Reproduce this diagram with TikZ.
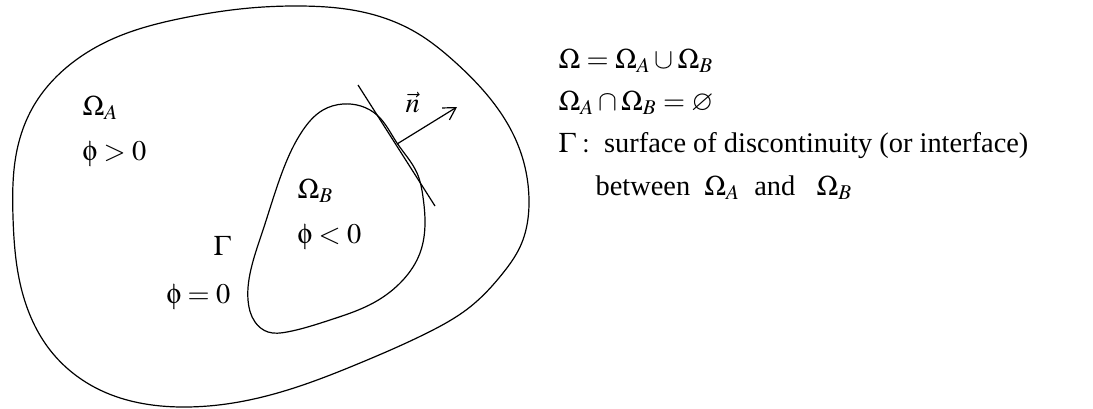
\documentclass[tikz,border=0pt]{standalone}
\usepackage{mathptmx}
\usepackage{amssymb}
\usepackage[Symbol]{upgreek}
\usepackage[no-math]{fontspec}
\setmainfont{Liberation Serif}
\usepackage{tikz}
\usetikzlibrary{arrows.meta, hobby}

\begin{document}
\begin{tikzpicture}[x=0.5pt, y=-0.5pt, line width=0.6pt,
  lbl/.style={anchor=base west, inner sep=0pt, font=\fontsize{14.2}{17}\selectfont}]
  \useasboundingbox (0,0) rectangle (1093,408);

  % Outer domain Omega
  \draw plot[closed hobby] coordinates {
    (13,217) (17,150) (33,107) (67,67) (117,37) (183,18) (250,8) (300,6)
    (367,13) (417,33) (455,62) (518,145) (529,200)
    (520,247) (503,273) (470,307) (427,333) (360,363) (300,386) (233,403)
    (187,407) (100,390) (50,350) (20,283)};
  % Inner domain Omega_B, boundary Gamma
  \draw plot[closed hobby] coordinates {
    (343,104) (377,115) (397,143) (417,173) (423,197) (425,223) (420,253)
    (403,280) (375,302) (330,320) (287,332) (268,332) (255,322) (248,300)
    (252,265) (263,230) (283,170) (303,130) (323,110)};

  % tangent plane and normal
  \coordinate (tanA) at (358,85);
  \coordinate (tanB) at (435,206);
  \coordinate (foot) at (397,144);
  \coordinate (tip) at (457,107);
  \draw (tanA) -- (tanB);
  \draw[-{Straight Barb[length=6pt,width=7pt]}] (foot) -- (tip);
  \node[lbl] (nvec) at (405,112) {$\vec{n}$};

  % region labels
  \node[lbl] (omA) at (82,115) {$\Omega_A$};
  \node[lbl] (phiA) at (82,160) {$\upphi > 0$};
  \node[lbl] (omB) at (297,198) {$\Omega_B$};
  \node[lbl] (phiB) at (297,243) {$\upphi < 0$};
  \node[lbl] (gam) at (213,255) {$\Gamma$};
  \node[lbl] (phiG) at (166,303) {$\upphi = 0$};

  % definitions
  \node[lbl] (def1) at (558,68) {$\Omega = \Omega_A \cup \Omega_B$};
  \node[lbl] (def2) at (558,110) {$\Omega_A \cap \Omega_B = \varnothing$};
  \node[lbl] (def3) at (558,152) {$\Gamma:$\ \ surface of discontinuity (or interface)};
  \node[lbl] (def4) at (595,195) {between\ \ $\Omega_A$\ \ and\ \ \ $\Omega_B$};
\end{tikzpicture}
\end{document}
